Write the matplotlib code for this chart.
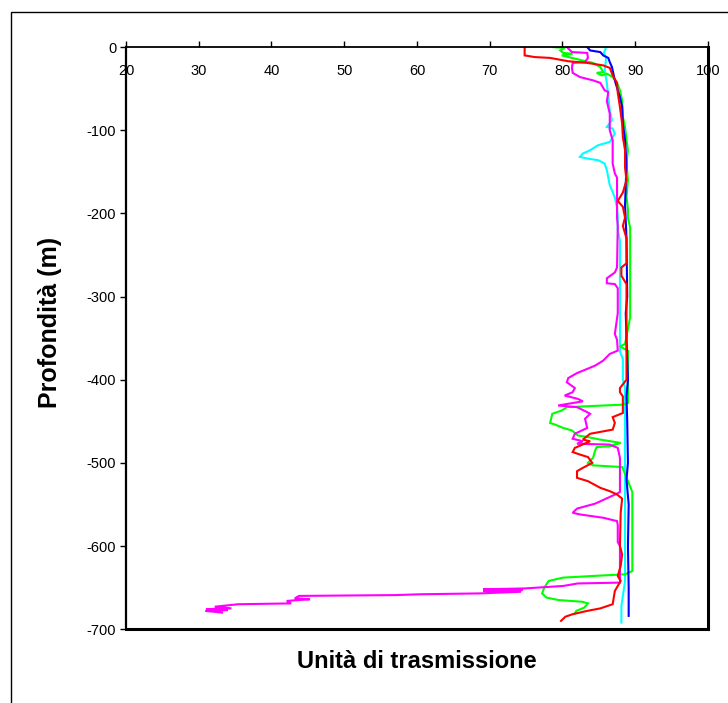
import matplotlib
matplotlib.use('Agg')
import matplotlib.pyplot as plt
from matplotlib.patches import Rectangle

plt.rcParams['font.family'] = ['Liberation Sans', 'DejaVu Sans']
plt.rcParams['axes.unicode_minus'] = False

# profili di trasmissione: (valore, profondita)
blu_x = [83.4, 83.8, 85.2, 85.6, 86.3, 86.5, 86.8, 86.9, 87.2, 87.6, 87.9, 88.2, 88.3, 88.6,
         88.8, 88.6, 88.8, 88.9, 88.7, 88.8, 89.0, 88.8, 88.9, 89.0, 88.8, 89.1, 89.0, 89.1, 89.1]
blu_y = [0, -4, -6, -10, -13, -18, -24, -28, -40, -52, -60, -72, -92, -112,
         -140, -190, -230, -300, -320, -350, -400, -420, -450, -500, -520, -550, -600, -650, -684]

rosso_x = [74.8, 74.8, 76.2, 78.3, 80.8, 83.4, 85.6, 86.5, 86.9, 87.5, 87.6, 87.9, 88.2, 88.3,
           88.6, 88.6, 88.8, 88.3, 87.6, 88.3, 88.6, 88.3, 88.8, 88.8, 88.1, 88.1, 88.8, 88.8,
           87.9, 87.9, 88.3, 88.3, 86.9, 87.2, 86.9, 83.8, 82.8, 83.8, 81.7, 81.4, 82.4, 83.5,
           84.1, 82.8, 82.0, 82.0, 83.5, 85.2, 86.5, 87.5, 88.2, 88.0, 87.9, 88.2, 88.0, 87.6,
           88.0, 87.2, 86.9, 85.2, 83.4, 81.4, 80.4, 79.8]
rosso_y = [0, -10, -12, -13, -17, -19, -22, -25, -34, -43, -55, -72, -92, -108,
           -124, -145, -160, -175, -185, -192, -205, -215, -230, -260, -265, -275, -285, -400,
           -410, -415, -420, -440, -445, -452, -460, -465, -472, -474, -482, -487, -490, -493,
           -500, -506, -510, -518, -522, -530, -534, -538, -543, -560, -600, -610, -624, -636,
           -642, -654, -670, -675, -678, -682, -685, -690]

verde_x = [78.7, 80.3, 79.7, 80.1, 81.4, 79.9, 82.7, 84.2, 85.2, 85.6, 84.7, 85.4, 86.1, 86.9,
           87.5, 87.9, 88.2, 88.3, 88.6, 88.8, 89.0, 88.8, 89.0, 88.8, 89.0, 89.0, 89.3, 89.3,
           88.6, 87.9, 89.0, 89.0, 88.2, 80.6, 79.9, 78.6, 78.3, 79.0, 80.1, 81.3, 82.1, 83.5,
           85.2, 88.0, 86.5, 84.7, 84.5, 84.2, 83.5, 84.2, 88.2, 89.0, 89.6, 89.6, 88.6, 84.2,
           80.1, 78.1, 77.5, 77.2, 77.8, 79.5, 82.7, 83.5, 83.0, 81.9, 81.7]
verde_y = [0, -1, -4, -7, -8, -10, -16, -19, -24, -30, -31, -34, -32, -36,
           -43, -52, -64, -84, -96, -112, -124, -140, -160, -180, -195, -205, -217, -325,
           -357, -360, -365, -428, -430, -433, -437, -441, -452, -454, -458, -461, -467, -469,
           -472, -476, -480, -481, -485, -494, -500, -503, -505, -522, -535, -630, -634, -636,
           -638, -642, -650, -657, -662, -665, -667, -669, -674, -678, -681]

magenta_x = [80.6, 81.3, 83.4, 83.5, 83.1, 81.4, 81.3, 81.4, 82.4, 84.2, 85.2, 85.8, 86.3, 86.1,
             86.5, 86.5, 86.9, 86.9, 87.2, 87.5, 87.5, 87.6, 87.5, 87.2, 86.1, 86.1, 87.2, 87.6,
             87.6, 87.2, 87.5, 87.6, 86.5, 85.6, 84.5, 83.4, 82.0, 80.8, 80.6, 81.7, 81.4, 80.3,
             82.1, 82.8, 79.4, 82.0, 83.4, 83.8, 83.1, 83.4, 81.7, 81.4, 82.8, 82.0, 86.5, 87.6,
             87.9, 87.9, 87.5, 84.5, 82.0, 81.4, 82.4, 85.6, 87.5, 87.6, 87.6, 87.9, 87.9,
             82.1, 80.1, 74.8, 69.1, 74.5, 69.1, 74.3, 68.5, 60.5, 57.0, 43.8, 43.2, 45.3, 42.1,
             42.7, 35.4, 32.2, 34.5, 31.0, 34.0, 30.9, 33.2]
magenta_y = [0, -6, -7, -13, -18, -19, -25, -31, -36, -40, -43, -52, -54, -65,
             -80, -100, -112, -140, -152, -157, -205, -215, -265, -271, -278, -284, -285, -290,
             -320, -345, -352, -365, -369, -377, -383, -387, -392, -398, -403, -410, -415, -419,
             -423, -426, -431, -433, -439, -441, -447, -458, -465, -471, -474, -477, -478, -482,
             -494, -535, -537, -549, -555, -560, -562, -566, -570, -575, -595, -600, -644,
             -645, -648, -651, -652, -653, -654, -655, -657, -658, -659, -660, -663, -664, -666,
             -669, -670, -673, -675, -676, -677, -678, -680]

ciano_x = [86.0, 85.7, 86.0, 85.8, 86.1, 86.3, 86.5, 86.8, 86.1, 86.9, 87.2, 86.5, 84.9, 83.8,
           82.8, 82.4, 83.4, 84.9, 85.8, 86.1, 86.3, 86.5, 86.8, 87.2, 87.5, 87.6, 87.6, 87.9,
           87.9, 88.3, 88.3, 88.6, 88.6, 88.3, 88.1, 88.1]
ciano_y = [0, -7, -13, -28, -43, -60, -76, -88, -96, -98, -104, -114, -118, -124,
           -128, -132, -134, -136, -140, -148, -157, -166, -172, -181, -193, -205, -220, -233,
           -366, -375, -400, -410, -642, -660, -672, -692]

xticks = [20, 30, 40, 50, 60, 70, 80, 90, 100]
yticks = [0, -100, -200, -300, -400, -500, -600, -700]

fig = plt.figure(figsize=(7.28, 7.03), dpi=100)
ax = fig.add_axes([0.173, 0.105, 0.7995, 0.828])

serie = [
    (ciano_x, ciano_y, '#00FFFF'),
    (verde_x, verde_y, '#00FF00'),
    (magenta_x, magenta_y, '#FF00FF'),
    (blu_x, blu_y, '#0000FF'),
    (rosso_x, rosso_y, '#FF0000'),
]
for xs, ys, col in serie:
    ax.plot(xs, ys, color=col, lw=1.5, solid_joinstyle='miter')

ax.set_xlim(20, 100)
ax.set_ylim(-700, 0)
ax.set_xticks(xticks)
ax.set_yticks(yticks)
ax.set_yticklabels([str(v) for v in yticks])

ax.tick_params(axis='x', top=True, labeltop=True, bottom=False, labelbottom=False,
               direction='out', length=4, width=1, pad=-26, labelsize=10.5)
ax.tick_params(axis='y', direction='out', length=4, width=1, labelsize=10.5, pad=3)

for lato, lw in [('left', 1.6), ('bottom', 2.2), ('right', 2.2), ('top', 1.3)]:
    ax.spines[lato].set_linewidth(lw)
    ax.spines[lato].set_color('black')

ax.xaxis.set_label_position('bottom')
ax.set_xlabel('Unità di trasmissione', fontsize=17, fontweight='bold', labelpad=15)
ax.set_ylabel('Profondità (m)', fontsize=18, fontweight='bold')
ax.yaxis.set_label_coords(-0.11, 0.527)

# cornice esterna (tagliata a destra e in basso)
fig.add_artist(Rectangle((11 / 728, -0.1), 1.2, 1.1 - 12 / 703, transform=fig.transFigure,
                         fill=False, edgecolor='black', lw=1))

fig.savefig('out.png', dpi=100)
